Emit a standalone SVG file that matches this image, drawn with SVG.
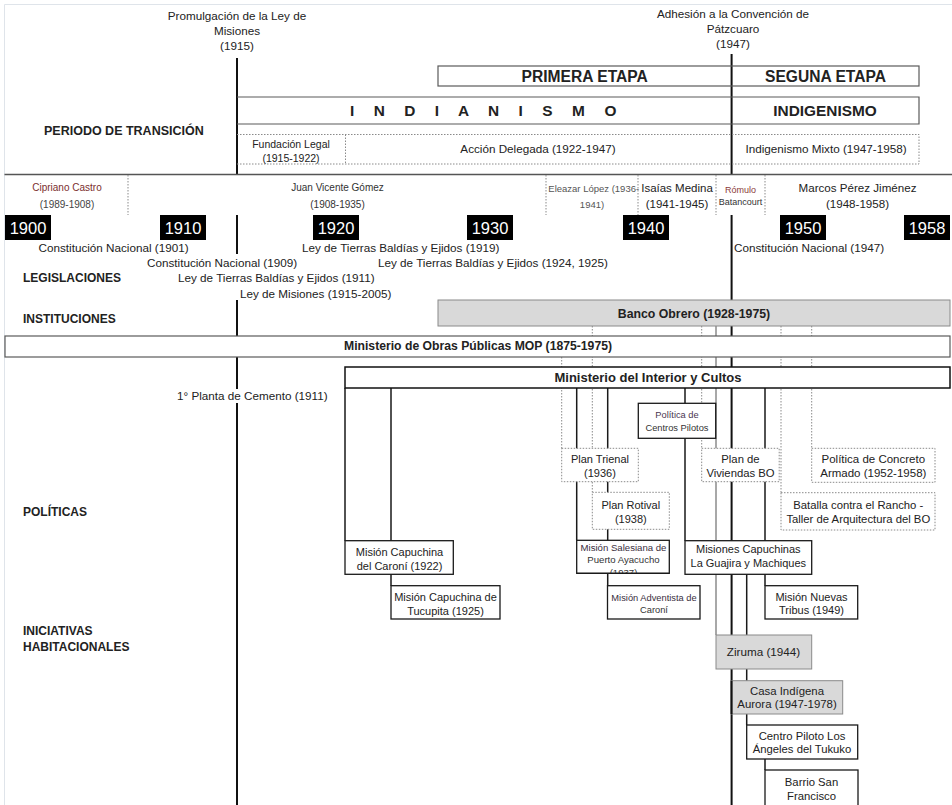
<svg xmlns="http://www.w3.org/2000/svg" width="952" height="805" viewBox="0 0 952 805">
<defs>
<style>
text{font-family:"Liberation Sans",Arial,sans-serif;fill:#222;font-size:11.7px}
.b{font-weight:bold}
.m{text-anchor:middle}
.box{fill:#fff;stroke:#1a1a1a;stroke-width:1.3}
.dbox{fill:#fff;stroke:#8a8a8a;stroke-width:1;stroke-dasharray:1.5 1.5}
.gbox{fill:#d9d9d9;stroke:#8a8a8a;stroke-width:1}
.hbox{fill:none;stroke:#5a5a5a;stroke-width:1.2}
.conn{stroke:#1a1a1a;stroke-width:1.5;fill:none}
.dconn{stroke:#8a8a8a;stroke-width:1;stroke-dasharray:1.5 1.5;fill:none}
.gconn{stroke:#a8a8a8;stroke-width:2;fill:none}
.tl{stroke:#111;stroke-width:2;fill:none}
.yr rect{fill:#000}
.yr text{fill:#fff;font-size:16.5px;text-anchor:middle}
.sm{font-size:10px}
.xs{font-size:9.3px}
</style>
<clipPath id="clipSal"><rect x="576.7" y="540.3" width="92.6" height="33"/></clipPath>
</defs>
<rect x="0" y="0" width="952" height="805" fill="#fff"/>
<path d="M4.5 4.5H952M4.5 4.5V805" stroke="#dfe4ea" stroke-width="1" fill="none"/>

<g id="connectors">
  <path class="tl" d="M237 58V174.5M237 215V254M237 300V336M237 357V389M237 403V805"/>
  <path class="tl" d="M731.6 54V174.5M731.6 215V805"/>
  <path class="dconn" d="M561.7 357V448.3M592.3 326V492.3M701.7 326V448.3M781 326V492.7M811.7 326V448.3"/>
  <path class="gconn" d="M716 326V635"/>
  <path class="conn" d="M345 388V540.7M391 388V585.7M576.7 388V540.3M607.7 388V585.7M685 388V540.7M765 388V585.7M746.7 574.3V725M765 759V770"/>
</g>

<g id="header-1915"><text class="m" x="237" y="19.5">Promulgación de la Ley de</text><text class="m" x="237" y="35">Misiones</text><text class="m" x="237" y="50">(1915)</text></g>
<g id="header-1947"><text class="m" x="733" y="17.5">Adhesión a la Convención de</text><text class="m" x="733" y="32.5">Pátzcuaro</text><text class="m" x="733" y="47.5">(1947)</text></g>

<g id="etapas">
  <rect class="hbox" x="438" y="66" width="481" height="20"/>
  <text class="b m" x="584.7" y="82.3" style="font-size:15.6px">PRIMERA ETAPA</text>
  <text class="b m" x="825.5" y="82.3" style="font-size:15.6px">SEGUNA ETAPA</text>
</g>
<g id="ismos">
  <path class="hbox" d="M237 97H919V124H237"/>
  <text class="b" x="349.9" y="115.5" style="font-size:15.4px;letter-spacing:7.6px">I N D I A N I S M O</text>
  <text class="b m" x="825" y="115.5" style="font-size:15.4px">INDIGENISMO</text>
</g>
<g id="periodos">
  <path class="dconn" d="M237 134.5H919V164H237M345.5 134.5V164"/>
  <text class="m" x="291" y="148" style="font-size:10.5px">Fundación Legal</text>
  <text class="m" x="291" y="161.5" style="font-size:10.5px">(1915-1922)</text>
  <text class="m" x="538" y="153">Acción Delegada (1922-1947)</text>
  <text class="m" x="826" y="153">Indigenismo Mixto (1947-1958)</text>
</g>
<text id="lbl-transicion" class="b" x="44" y="134.5" style="font-size:12.5px">PERIODO DE TRANSICIÓN</text>
<path d="M4.5 174.5H952" stroke="#555" stroke-width="1.5"/>

<g id="presidentes">
  <path class="dconn" d="M128 175V215M546 175V215M638 175V215M716 175V215M765 175V215"/>
  <text class="m sm" x="67" y="191" style="fill:#7b2e2e">Cipriano Castro</text>
  <text class="m sm" x="67" y="207.5" style="fill:#444">(1989-1908)</text>
  <text class="m sm" x="337.5" y="191" style="fill:#333">Juan Vicente Gómez</text>
  <text class="m sm" x="337.5" y="207.5" style="fill:#333">(1908-1935)</text>
  <text x="548.3" y="192" style="font-size:9.5px;fill:#555">Eleazar López (1936-</text>
  <text class="m" x="592" y="208" style="font-size:9.5px;fill:#555">1941)</text>
  <text class="m" x="677" y="192" style="font-size:11.5px">Isaías Medina</text>
  <text class="m" x="677" y="207.5" style="font-size:11.5px">(1941-1945)</text>
  <text class="m" x="740.5" y="193" style="font-size:9px;fill:#8b3a3a">Rómulo</text>
  <text class="m" x="740.5" y="205" style="font-size:9px;fill:#333">Batancourt</text>
  <text class="m" x="857.5" y="192" style="font-size:11.6px">Marcos Pérez Jiménez</text>
  <text class="m" x="857.5" y="207.5" style="font-size:11.6px">(1948-1958)</text>
</g>

<g id="years" class="yr">
  <rect x="5" y="215" width="46" height="25"/><text x="28" y="234">1900</text>
  <rect x="160" y="215" width="46" height="25"/><text x="183" y="234">1910</text>
  <rect x="313" y="215" width="46" height="25"/><text x="336" y="234">1920</text>
  <rect x="467" y="215" width="46" height="25"/><text x="490" y="234">1930</text>
  <rect x="623" y="215" width="46" height="25"/><text x="646" y="234">1940</text>
  <rect x="780" y="215" width="46" height="25"/><text x="803" y="234">1950</text>
  <rect x="904" y="215" width="46" height="25"/><text x="927" y="234">1958</text>
</g>

<g id="legislaciones">
  <text x="38.5" y="251.5">Constitución Nacional (1901)</text>
  <text x="147" y="266.5">Constitución Nacional (1909)</text>
  <text x="178" y="282">Ley de Tierras Baldías y Ejidos (1911)</text>
  <text x="240" y="297.5">Ley de Misiones (1915-2005)</text>
  <text x="302" y="251.5">Ley de Tierras Baldías y Ejidos (1919)</text>
  <text x="378" y="267">Ley de Tierras Baldías y Ejidos (1924, 1925)</text>
  <text x="734" y="251.5">Constitución Nacional (1947)</text>
</g>
<text id="lbl-legis" class="b" x="23" y="281.5" style="font-size:12px">LEGISLACIONES</text>
<text id="lbl-inst" class="b" x="23" y="322.5" style="font-size:12px">INSTITUCIONES</text>
<text id="lbl-pol" class="b" x="23" y="516" style="font-size:12px">POLÍTICAS</text>
<text id="lbl-inic" class="b" x="23" y="634.5" style="font-size:12px"><tspan x="23">INICIATIVAS</tspan><tspan x="23" y="650.5">HABITACIONALES</tspan></text>

<g id="banco-obrero"><rect class="gbox" x="438" y="300" width="512" height="26" stroke="#a0a0a0"/><text class="b m" x="694" y="317.5" style="font-size:12.3px">Banco Obrero (1928-1975)</text></g>
<g id="mop"><rect x="5" y="336" width="945" height="21" fill="#fff" stroke="#5a5a5a" stroke-width="1.2"/><text class="b m" x="478" y="350" style="font-size:12.2px">Ministerio de Obras Públicas MOP (1875-1975)</text></g>
<g id="min-interior"><rect x="345" y="367" width="605" height="21" fill="#fff" stroke="#111" stroke-width="1.5"/><text class="b m" x="648" y="381.5" style="font-size:13px">Ministerio del Interior y Cultos</text></g>
<text id="planta-cemento" x="177" y="400">1° Planta de Cemento (1911)</text>

<g id="centros-pilotos"><rect class="box" x="638.3" y="403.3" width="77.4" height="35"/><text class="m xs" x="677" y="418.3" style="fill:#4a3550">Política de</text><text class="m xs" x="677" y="430.6" style="fill:#333">Centros Pilotos</text></g>
<g id="plan-trienal"><rect class="dbox" x="561.7" y="448.3" width="76.6" height="33.4"/><text class="m" x="600" y="463" style="font-size:11px">Plan Trienal</text><text class="m" x="600" y="477" style="font-size:11px">(1936)</text></g>
<g id="plan-viviendas"><rect class="dbox" x="701.7" y="448.3" width="77.5" height="33.4"/><text class="m" x="740.5" y="463" style="font-size:11.3px">Plan de</text><text class="m" x="740.5" y="477" style="font-size:11.3px">Viviendas BO</text></g>
<g id="concreto"><rect class="dbox" x="811.7" y="448.3" width="123.3" height="34"/><text class="m" x="873.3" y="463" style="font-size:11.5px">Política de Concreto</text><text class="m" x="873.3" y="477" style="font-size:11.5px">Armado (1952-1958)</text></g>
<g id="plan-rotival"><rect class="dbox" x="592.3" y="492.3" width="77" height="37"/><text class="m" x="630.8" y="509" style="font-size:11px">Plan Rotival</text><text class="m" x="630.8" y="522.5" style="font-size:11px">(1938)</text></g>
<g id="batalla"><rect class="dbox" x="781" y="492.7" width="154" height="37.3"/><text class="m" x="858.3" y="509" style="font-size:11.3px">Batalla contra el Rancho -</text><text class="m" x="858.3" y="523" style="font-size:11.3px">Taller de Arquitectura del BO</text></g>

<g id="mision-caroni"><rect class="box" x="345" y="540.7" width="108.3" height="33.6"/><text class="m" x="399.5" y="555.5" style="font-size:11px">Misión Capuchina</text><text class="m" x="399.5" y="569.5" style="font-size:11px">del Caroní (1922)</text></g>
<g id="mision-salesiana"><rect class="box" x="576.7" y="540.3" width="92.6" height="33"/><g clip-path="url(#clipSal)"><text class="m" x="623.5" y="551" style="font-size:9.6px;fill:#3a2e40">Misión Salesiana de</text><text class="m" x="623.5" y="563.3" style="font-size:9.6px;fill:#333">Puerto Ayacucho</text><text class="m" x="623.5" y="575.5" style="font-size:9.6px;fill:#333">(1937)</text></g><path d="M576.7 573.3H669.3" stroke="#1a1a1a" stroke-width="1.3"/></g>
<g id="misiones-capuchinas"><rect class="box" x="685" y="540.7" width="126.7" height="33.6"/><text class="m" x="748.3" y="553.3" style="font-size:11px">Misiones  Capuchinas</text><text class="m" x="748.3" y="567.3" style="font-size:11px">La Guajira y Machiques</text></g>
<g id="mision-tucupita"><rect class="box" x="391" y="585.7" width="109" height="33.3"/><text class="m" x="445.5" y="601" style="font-size:11px">Misión Capuchina de</text><text class="m" x="445.5" y="614.5" style="font-size:11px">Tucupita (1925)</text></g>
<g id="mision-adventista"><rect class="box" x="607.5" y="585.7" width="92.5" height="33.3"/><text class="m" x="654" y="600.5" style="font-size:9.3px;fill:#3a2e40">Misión Adventista de</text><text class="m" x="654" y="612.8" style="font-size:9.3px;fill:#333">Caroní</text></g>
<g id="mision-nuevas-tribus"><rect class="box" x="765" y="585.7" width="92.7" height="33.3"/><text class="m" x="811.5" y="600.5" style="font-size:11px">Misión Nuevas</text><text class="m" x="811.5" y="614" style="font-size:11px">Tribus (1949)</text></g>
<g id="ziruma"><rect class="gbox" x="716" y="635" width="95.7" height="34"/><text class="m" x="763.5" y="656.3">Ziruma (1944)</text></g>
<g id="casa-indigena"><rect class="gbox" x="731.7" y="680.7" width="111" height="33.3"/><path d="M731.6 680.7V714" stroke="#111" stroke-width="2"/><text class="m" x="787" y="694.5" style="font-size:11.4px">Casa Indígena</text><text class="m" x="787" y="708" style="font-size:11.4px">Aurora (1947-1978)</text></g>
<g id="centro-piloto"><rect class="box" x="746.7" y="725" width="111" height="34"/><text class="m" x="802" y="740" style="font-size:11.3px">Centro Piloto Los</text><text class="m" x="802" y="753.3" style="font-size:11.3px">Ángeles del Tukuko</text></g>
<g id="barrio-san-francisco"><rect class="box" x="765" y="770" width="93" height="40"/><text class="m" x="811.5" y="785.5" style="font-size:11.3px">Barrio San</text><text class="m" x="811.5" y="799.5" style="font-size:11.3px">Francisco</text></g>
</svg>
